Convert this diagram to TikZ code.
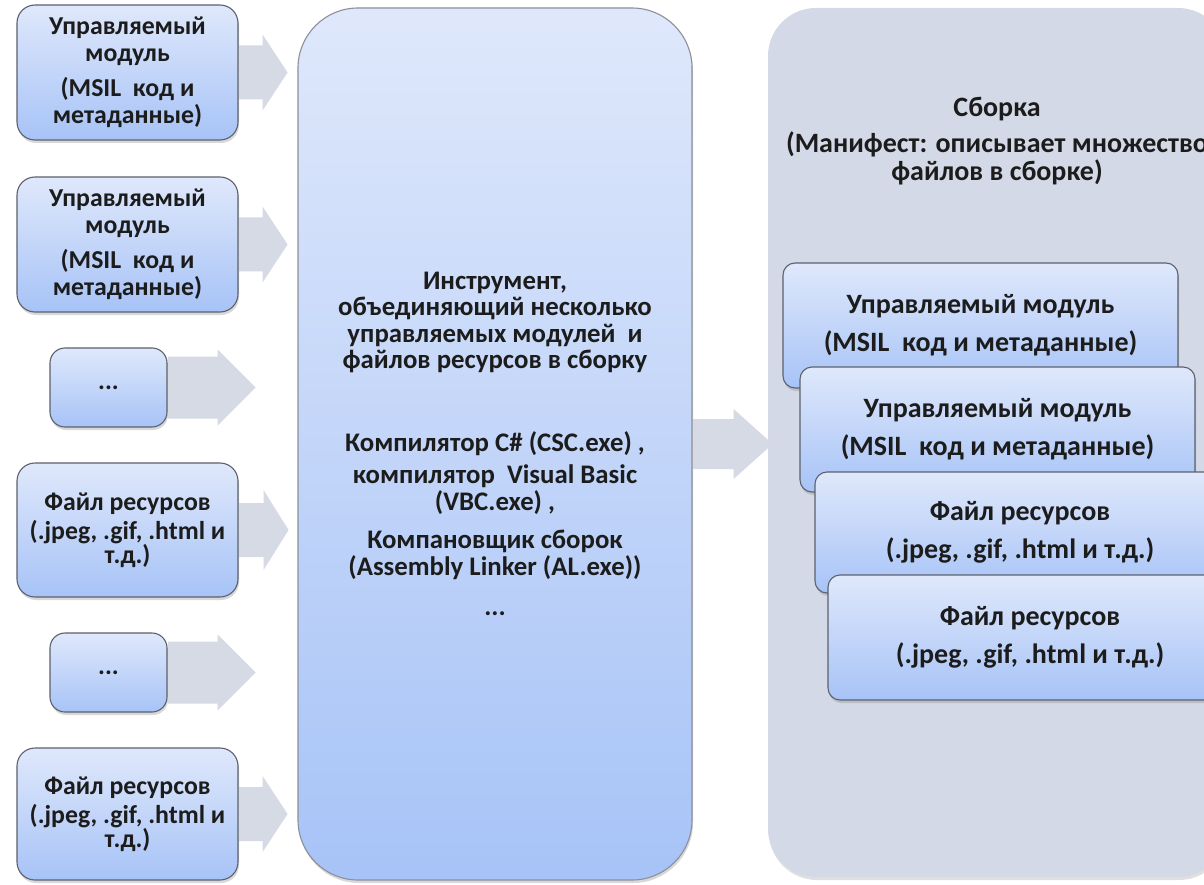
\documentclass[tikz,border=0pt]{standalone}
\usepackage{fontspec}
\setmainfont{Carlito}
\usetikzlibrary{shadows,calc}
\definecolor{txt}{HTML}{1C1C1C}
\definecolor{boxtop}{HTML}{DFE8FB}
\definecolor{boxbot}{HTML}{A7C3F7}
\definecolor{edgec}{HTML}{5C616B}
\definecolor{arrowc}{HTML}{D5DAE4}
\definecolor{asmc}{HTML}{D3D9E6}
\definecolor{tooledge}{HTML}{8C9099}
\newcommand\blockarrow[5]{%
  \fill[arrowc] ($(#1.east)+(0.6,-#4)$) -- ($(#1.east)+(#2,-#4)$) -- ($(#1.east)+(#2,-#5)$)
    -- ($(#1.east)+(#2+#3,0)$) -- ($(#1.east)+(#2,#5)$) -- ($(#1.east)+(#2,#4)$)
    -- ($(#1.east)+(0.6,#4)$) -- cycle;}
\begin{document}
\begin{tikzpicture}[x=1pt,y=-1pt,
  every node/.style={font=\fontsize{25.8}{26.5}\selectfont\bfseries, text=txt, align=center, inner sep=0pt},
  bigtext/.style={font=\fontsize{28}{28}\selectfont\bfseries},
  midtext/.style={font=\fontsize{26.8}{26.5}\selectfont\bfseries},
  modbox/.style={draw=edgec, line width=1.1pt, rounded corners=18pt, top color=boxtop, bottom color=boxbot,
    drop shadow={shadow xshift=1pt, shadow yshift=-3pt, opacity=0.3}, minimum width=221pt},
  dotbox/.style={modbox, rounded corners=15pt, minimum width=117pt, minimum height=79pt},
  toolbox/.style={draw=tooledge, line width=1.1pt, rounded corners=60pt, top color=boxtop, bottom color=boxbot,
    drop shadow={shadow xshift=1pt, shadow yshift=-3pt, opacity=0.3}, minimum width=394pt, minimum height=872pt, midtext},
  asmbox/.style={fill=asmc, rounded corners=48pt, minimum width=458pt, minimum height=869pt,
    drop shadow={shadow xshift=1pt, shadow yshift=-3pt, opacity=0.25}},
  innerbox/.style={draw=edgec, line width=1.1pt, rounded corners=12pt, top color=boxtop, bottom color=boxbot,
    drop shadow={shadow xshift=1pt, shadow yshift=-3pt, opacity=0.3}, bigtext}
]
\useasboundingbox (0,0) rectangle (1204,885);
\fill[white] (0,0) rectangle (1204,885);
\clip (0,0) rectangle (1204,885);

% left column
\node[modbox, minimum height=135pt] (m1) at (127.5,72.5) {Управляемый\\ модуль\\[9pt] (MSIL\ \ код и\\ метаданные)};
\node[modbox, minimum height=135pt] (m2) at (127.5,244.5) {Управляемый\\ модуль\\[9pt] (MSIL\ \ код и\\ метаданные)};
\node[dotbox] (d1) at (108.5,387.5) {...};
\node[modbox, minimum height=134pt] (r1) at (127.5,530) {Файл ресурсов\\[3pt] (.jpeg, .gif, .html и\\[-3pt] т.д.)};
\node[dotbox] (d2) at (108.5,672.5) {...};
\node[modbox, minimum height=132pt] (r2) at (127.5,814) {Файл ресурсов\\[3pt] (.jpeg, .gif, .html и\\[-3pt] т.д.)};

% central tool
\node[toolbox] (tool) at (495,444) {Инструмент,\\ объединяющий несколько\\ управляемых модулей\ \ и\\ файлов ресурсов в сборку\\[56pt]
  Компилятор C\# (CSC.exe) ,\\[6pt] компилятор\ \ Visual Basic\\ (VBC.exe) ,\\[12pt]
  Компановщик сборок\\ (Assembly Linker (AL.exe))\\[14pt] ...};

% assembly container
\node[asmbox] (asm) at (997,442.5) {};
\node[bigtext] (asmtitle) at (997,141) {Сборка\\[8pt] (Манифест: описывает множество\\ файлов в сборке)};

\node[innerbox, minimum width=395pt, minimum height=125pt] (i1) at (980.5,325.5) {Управляемый модуль\\[10pt] (MSIL\ \ код и метаданные)};
\node[innerbox, minimum width=395pt, minimum height=125pt] (i2) at (997.5,429.5) {Управляемый модуль\\[10pt] (MSIL\ \ код и метаданные)};
\node[innerbox, minimum width=410pt, minimum height=121pt] (i3) at (1020,532.5) {Файл ресурсов\\[10pt] (.jpeg, .gif, .html и т.д.)};
\node[innerbox, minimum width=404pt, minimum height=125pt] (i4) at (1030,637.5) {Файл ресурсов\\[10pt] (.jpeg, .gif, .html и т.д.)};

% block arrows
\blockarrow{m1}{24}{25}{27}{38}
\blockarrow{m2}{24}{25}{27}{38}
\blockarrow{d1}{50}{38}{31}{38}
\blockarrow{r1}{25}{25}{27}{40}
\blockarrow{d2}{50}{38}{31}{38}
\blockarrow{r2}{24}{25}{27}{38}
\blockarrow{tool}{41}{39}{25}{35}
\end{tikzpicture}
\end{document}
